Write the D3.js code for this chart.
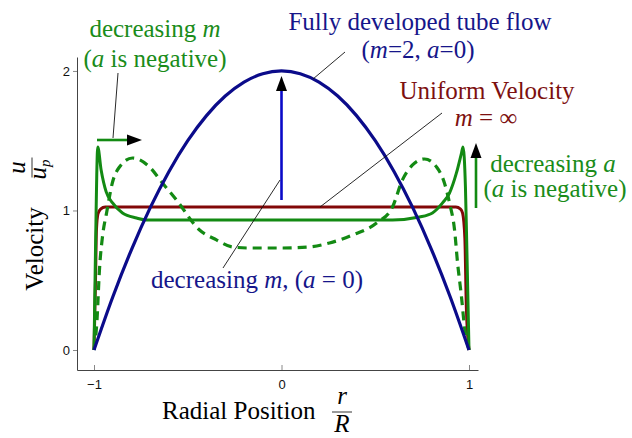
<!DOCTYPE html>
<html>
<head>
<meta charset="utf-8">
<script src="https://cdn.jsdelivr.net/npm/d3@7"></script>
<style>
  html, body { margin: 0; padding: 0; background: #fff; }
  svg { display: block; }
  .lbl { font-family: "Liberation Serif", "Times New Roman", serif; font-size: 25px; }
  .tick text { font-family: "Liberation Sans", Arial, sans-serif; font-size: 13px; fill: #111; }
</style>
</head>
<body>
<svg id="chart" width="632" height="438"></svg>
<script>
// Velocity profiles across a tube, u/u_p against r/R
const xTicks = [-1, 0, 1];
const yTicks = [0, 1, 2];

// Fully developed tube flow (m = 2, a = 0)
const parabolicR = [-1, -0.9, -0.8, -0.7, -0.6, -0.5, -0.4, -0.3, -0.2, -0.1, 0, 0.1, 0.2, 0.3, 0.4, 0.5, 0.6, 0.7, 0.8, 0.9, 1];
const parabolicU = [0, 0.38, 0.72, 1.02, 1.28, 1.5, 1.68, 1.82, 1.92, 1.98, 2.0, 1.98, 1.92, 1.82, 1.68, 1.5, 1.28, 1.02, 0.72, 0.38, 0];

// Uniform velocity (m = ∞)
const uniformR = [-1, -0.992, -0.987, -0.979, -0.965, -0.94, 0.93, 0.955, 0.966, 0.978, 0.986, 1];
const uniformU = [0, 0.5, 0.86, 0.975, 1.01, 1.025, 1.025, 1.01, 0.98, 0.8, 0.3, 0];

// Negative a, small m (solid green)
const peakedR = [-1, -0.992, -0.98, -0.962, -0.935, -0.901, -0.848, -0.773, -0.72, 0.592, 0.736, 0.805, 0.859, 0.896, 0.933, 0.96, 0.968, 0.981, 0.989, 1];
const peakedU = [0, 0.72, 1.455, 1.29, 1.133, 1.054, 0.982, 0.946, 0.932, 0.932, 0.953, 0.982, 1.054, 1.125, 1.269, 1.412, 1.455, 1.168, 0.695, 0];

// Negative a, larger m (dashed green)
const humpR = [-1, -0.984, -0.971, -0.955, -0.933, -0.901, -0.864, -0.795, -0.704, -0.635, -0.56, -0.437, -0.347, -0.261, -0.171, 0, 0.149, 0.256, 0.379, 0.507, 0.592, 0.645, 0.699, 0.763, 0.827, 0.869, 0.896, 0.923, 0.939, 0.96, 0.976, 1];
const humpU = [0, 0.215, 0.573, 0.81, 0.982, 1.204, 1.312, 1.376, 1.312, 1.197, 1.075, 0.86, 0.789, 0.738, 0.731, 0.731, 0.738, 0.767, 0.824, 0.91, 1.025, 1.219, 1.326, 1.369, 1.312, 1.197, 1.054, 0.86, 0.624, 0.38, 0.165, 0];

const BLUE = "#0b0b8a", RED = "#820808", GREEN = "#138a13";
const BLUE_TXT = "#16168a", RED_TXT = "#7d1010", GREEN_TXT = "#1a8c1a";

const svg = d3.select("#chart");

// Frame runs a little past the data range on every side
const x = d3.scaleLinear().domain([-1.0907, 1.048]).range([77, 478]);
const y = d3.scaleLinear().domain([-0.1434, 2.1]).range([370, 57]);

// Axes
const xAxis = d3.axisBottom(x).tickValues(xTicks).tickSizeInner(-5).tickSizeOuter(0).tickPadding(10).tickFormat(d3.format("d"));
const yAxis = d3.axisLeft(y).tickValues(yTicks).tickSizeInner(4).tickSizeOuter(0).tickPadding(3).tickFormat(d3.format("d"));

const gx = svg.append("g").attr("transform", "translate(0,370)").call(xAxis);
const gy = svg.append("g").attr("transform", "translate(77,0)").call(yAxis);
[gx, gy].forEach(g => {
  g.select(".domain").attr("stroke", "#444").attr("stroke-width", 1);
  g.selectAll(".tick line").attr("stroke", "#888");
});
gx.selectAll(".tick text").attr("dy", "0.71em");

const line = d3.line().x(d => x(d[0])).y(d => y(d[1])).curve(d3.curveMonotoneX);
const pairs = (rs, us) => rs.map((r, i) => [r, us[i]]);

const plot = svg.append("g");
plot.append("path").datum(pairs(uniformR, uniformU))
  .attr("d", line).attr("fill", "none").attr("stroke", RED).attr("stroke-width", 3).attr("stroke-linejoin", "round");
plot.append("path").datum(pairs(humpR, humpU))
  .attr("d", line).attr("fill", "none").attr("stroke", GREEN).attr("stroke-width", 3.2)
  .attr("stroke-dasharray", "9,6");
plot.append("path").datum(pairs(peakedR, peakedU))
  .attr("d", line).attr("fill", "none").attr("stroke", GREEN).attr("stroke-width", 3).attr("stroke-linejoin", "round");
plot.append("path").datum(pairs(parabolicR, parabolicU))
  .attr("d", line).attr("fill", "none").attr("stroke", BLUE).attr("stroke-width", 3.2);

// Arrows showing the trend directions
const ann = svg.append("g");
function arrow(x1, y1, x2, y2, color, width) {
  const ang = Math.atan2(y2 - y1, x2 - x1);
  const len = 15, half = 5.5;
  const bx = x2 - len * Math.cos(ang), by = y2 - len * Math.sin(ang);
  ann.append("line").attr("x1", x1).attr("y1", y1).attr("x2", bx).attr("y2", by)
    .attr("stroke", color).attr("stroke-width", width);
  const px = -Math.sin(ang) * half, py = Math.cos(ang) * half;
  ann.append("path")
    .attr("d", `M${x2},${y2}L${bx + px},${by + py}L${bx - px},${by - py}Z`)
    .attr("fill", "#000");
}
arrow(x(0), 200, x(0), 76, "#0a0ac8", 2.6);
arrow(97, 140, 142, 140, GREEN, 2.6);
arrow(476, 208, 476, 143, GREEN, 2.6);

// Leader lines from labels to curves
const leaders = [[118, 73, 113, 138], [345, 52, 313, 79], [442, 113, 320, 207], [223, 268, 280, 180]];
ann.selectAll("line.leader").data(leaders).join("line").attr("class", "leader")
  .attr("x1", d => d[0]).attr("y1", d => d[1]).attr("x2", d => d[2]).attr("y2", d => d[3])
  .attr("stroke", "#111").attr("stroke-width", 0.9);

// Labels made of roman and italic pieces
function label(cx, by, parts, color, anchor) {
  const t = svg.append("text").attr("class", "lbl").attr("x", cx).attr("y", by)
    .attr("text-anchor", anchor || "middle").attr("fill", color);
  parts.forEach(p => {
    const s = t.append("tspan").text(p.t);
    if (p.i) s.attr("font-style", "italic");
  });
  return t;
}
label(155, 37, [{t: "decreasing "}, {t: "m", i: 1}], GREEN_TXT);
label(155, 67, [{t: "("}, {t: "a", i: 1}, {t: " is negative)"}], GREEN_TXT);
label(420, 30, [{t: "Fully developed tube flow"}], BLUE_TXT);
label(418, 58, [{t: "("}, {t: "m", i: 1}, {t: "=2, "}, {t: "a", i: 1}, {t: "=0)"}], BLUE_TXT);
label(487, 99, [{t: "Uniform Velocity"}], RED_TXT);
label(486, 126, [{t: "m", i: 1}, {t: " = ∞"}], RED_TXT);
label(553, 172, [{t: "decreasing "}, {t: "a", i: 1}], GREEN_TXT);
label(555, 197, [{t: "("}, {t: "a", i: 1}, {t: " is negative)"}], GREEN_TXT);
label(257, 288, [{t: "decreasing "}, {t: "m", i: 1}, {t: ", ("}, {t: "a", i: 1}, {t: " = 0)"}], BLUE_TXT);

// Axis titles
label(162, 419, [{t: "Radial Position"}], "#000", "start");
const rf = svg.append("g").attr("transform", "translate(342,412)");
rf.append("line").attr("x1", -10).attr("x2", 10).attr("stroke", "#000").attr("stroke-width", 0.8);
rf.append("text").attr("class", "lbl").attr("y", -8).attr("text-anchor", "middle")
  .attr("font-style", "italic").attr("font-size", 22).text("r");
rf.append("text").attr("class", "lbl").attr("y", 20).attr("text-anchor", "middle")
  .attr("font-style", "italic").attr("font-size", 22).text("R");

svg.append("g").attr("transform", "translate(43,249) rotate(-90)")
  .append("text").attr("class", "lbl").attr("text-anchor", "middle").attr("font-size", 27).attr("fill", "#000").text("Velocity");

const uf = svg.append("g").attr("transform", "translate(32,167.5) rotate(-90)");
uf.append("line").attr("x1", -10).attr("x2", 10).attr("stroke", "#000").attr("stroke-width", 0.8);
uf.append("text").attr("class", "lbl").attr("y", -7).attr("text-anchor", "middle")
  .attr("font-style", "italic").attr("font-size", 24).text("u");
const ud = uf.append("text").attr("class", "lbl").attr("y", 14).attr("x", -2).attr("text-anchor", "middle")
  .attr("font-style", "italic").attr("font-size", 24);
ud.append("tspan").text("u");
ud.append("tspan").attr("font-size", 15).attr("dy", 4).text("p");
</script>
</body>
</html>
